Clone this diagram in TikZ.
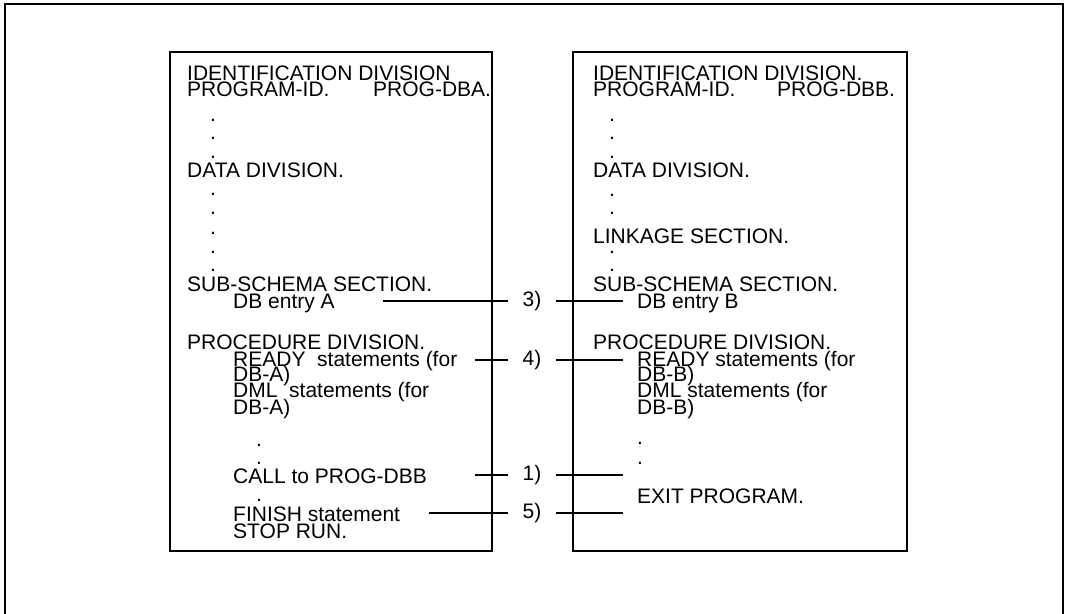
\documentclass[tikz,border=0pt]{standalone}
\usepackage{fontspec}
\setmainfont{Liberation Sans}
\begin{document}
\begin{tikzpicture}[x=1pt,y=-1pt,
  txt/.style={anchor=base west,inner sep=0pt,font=\fontsize{21}{21}\selectfont},
  lbl/.style={anchor=center,inner xsep=14.5pt,inner ysep=0pt,font=\fontsize{21}{21}\selectfont},
  frame/.style={draw=black,line width=1.4pt},
  conn/.style={draw=black,line width=1.3pt}]
\useasboundingbox (0,0) rectangle (1067,613);
\draw[frame] (5,640) -- (5,4) -- (1063,4) -- (1063,640);
\draw[frame] (170,52) rectangle (492,551);
\draw[frame] (573,52) rectangle (907,551);
% left program
\node[txt] (a1) at (187,80) {IDENTIFICATION DIVISION};
\node[txt] (a2) at (187,96) {PROGRAM-ID.};
\node[txt] (a2b) at (373,96) {PROG-DBA.};
\node[txt] (ad1) at (210,121) {.};
\node[txt] (ad2) at (210,139) {.};
\node[txt] (ad3) at (210,158) {.};
\node[txt] (a3) at (187,177) {DATA DIVISION.};
\node[txt] (ad4) at (210,195) {.};
\node[txt] (ad5) at (210,214) {.};
\node[txt] (ad6) at (210,234) {.};
\node[txt] (ad7) at (210,253) {.};
\node[txt] (ad8) at (210,271) {.};
\node[txt] (a4) at (187,291) {SUB-SCHEMA SECTION.};
\node[txt] (a5) at (233,308) {DB entry A};
\node[txt] (a6) at (187,349) {PROCEDURE DIVISION.};
\node[txt] (a7) at (233,366) {READY\ \ statements (for};
\node[txt] (a8) at (233,381) {DB-A)};
\node[txt] (a9) at (233,397) {DML\ \ statements (for};
\node[txt] (a10) at (233,414) {DB-A)};
\node[txt] (ad9) at (256,446) {.};
\node[txt] (ad10) at (256,464) {.};
\node[txt] (a11) at (233,483) {CALL to PROG-DBB};
\node[txt] (ad11) at (256,501) {.};
\node[txt] (a12) at (233,521) {FINISH statement};
\node[txt] (a13) at (233,538) {STOP RUN.};
% right program
\node[txt] (b1) at (593,80) {IDENTIFICATION DIVISION.};
\node[txt] (b2) at (593,96) {PROGRAM-ID.};
\node[txt] (b2b) at (777,96) {PROG-DBB.};
\node[txt] (bd1) at (609,121) {.};
\node[txt] (bd2) at (609,139) {.};
\node[txt] (bd3) at (609,158) {.};
\node[txt] (b3) at (593,177) {DATA DIVISION.};
\node[txt] (bd4) at (609,196) {.};
\node[txt] (bd5) at (609,214) {.};
\node[txt] (b4) at (593,243) {LINKAGE SECTION.};
\node[txt] (bd6) at (609,253) {.};
\node[txt] (bd7) at (609,271) {.};
\node[txt] (b5) at (593,291) {SUB-SCHEMA SECTION.};
\node[txt] (b6) at (637,308) {DB entry B};
\node[txt] (b7) at (593,349) {PROCEDURE DIVISION.};
\node[txt] (b8) at (637,366) {READY statements (for};
\node[txt] (b9) at (637,381) {DB-B)};
\node[txt] (b10) at (637,397) {DML statements (for};
\node[txt] (b11) at (637,414) {DB-B)};
\node[txt] (bd8) at (637,444) {.};
\node[txt] (bd9) at (637,464) {.};
\node[txt] (b12) at (637,503) {EXIT PROGRAM.};
% labels
\node[lbl] (l3) at (532,301) {3)};
\node[lbl] (l4) at (532,360) {4)};
\node[lbl] (l1) at (532,475) {1)};
\node[lbl] (l5) at (532,513) {5)};
% connector ends
\coordinate (s3) at (383,301);
\coordinate (s4) at (475,360);
\coordinate (s1) at (475,475);
\coordinate (s5) at (429,513);
\coordinate (e3) at (623,301);
\coordinate (e4) at (623,360);
\coordinate (e1) at (623,475);
\coordinate (e5) at (623,513);
\draw[conn] (s3) -- (l3.west);
\draw[conn] (l3.east) -- (e3);
\draw[conn] (s4) -- (l4.west);
\draw[conn] (l4.east) -- (e4);
\draw[conn] (s1) -- (l1.west);
\draw[conn] (l1.east) -- (e1);
\draw[conn] (s5) -- (l5.west);
\draw[conn] (l5.east) -- (e5);
\end{tikzpicture}
\end{document}
